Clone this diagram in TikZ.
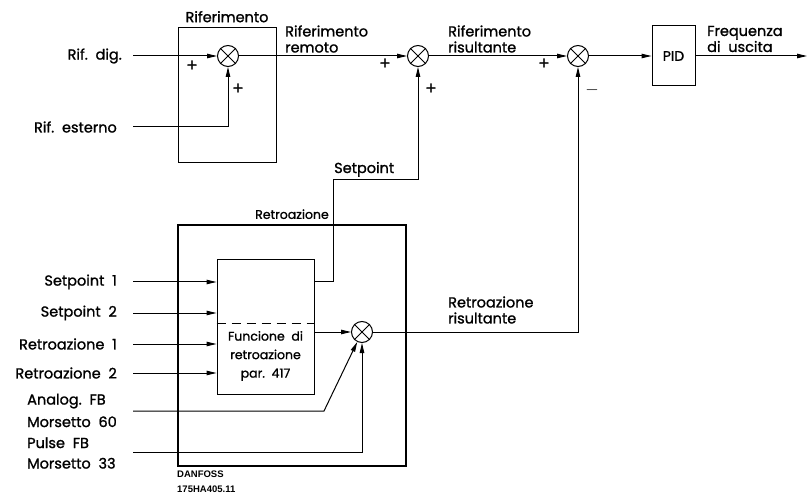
\documentclass[tikz,border=0pt]{standalone}
\usepackage{fontspec}
\setmainfont{Poppins}[RawFeature={embolden=1.2}]
\newfontfamily\stampfont{Liberation Sans}
\usetikzlibrary{arrows.meta,calc,positioning}
\tikzset{
  sumnode/.style={circle,draw=black,line width=1pt,minimum size=21pt,inner sep=0pt},
  blockbox/.style={draw=black,line width=1pt,inner sep=0pt,
    font=\fontsize{14}{16}\selectfont},
  frame/.style={draw=black,line width=1.6pt,inner sep=0pt},
  sig/.style={-{Triangle[length=10pt,width=4.5pt]},line width=1pt},
  wire/.style={line width=1pt},
  lbl/.style={font=\fontsize{14.5}{16}\selectfont,align=left,inner sep=1pt},
  sign/.style={font=\fontsize{17}{17}\selectfont,inner sep=0pt},
  stamp/.style={font=\stampfont\bfseries\fontsize{9.5}{15}\selectfont,align=left,inner sep=0pt}
}
\begin{document}
\begin{tikzpicture}[x=1pt,y=-1pt,node distance=10pt]
  \useasboundingbox (0,0) rectangle (807,500);
  % reference chain
  \node[blockbox,minimum width=98pt,minimum height=135pt] (rifbox) at (227,95.5) {};
  \node[lbl,above=4pt of rifbox] (riflbl) {Riferimento};
  \node[sumnode] (s1) at (228,56) {};
  \node[sumnode] (s2) at (418,56) {};
  \node[sumnode] (s3) at (578,56) {};
  \node[blockbox,minimum width=43pt,minimum height=60pt] (pid) at (673.5,56) {PID};
  \coordinate (dig) at (133,56);
  \coordinate (est) at (133,127);
  \coordinate (fout) at (807,56);
  \node[lbl,left=of dig] (diglbl) {Rif.\ \ dig.};
  \node[lbl,left=15pt of est] (estlbl) {Rif.\ \ esterno};
  \draw[sig] (dig) -- (s1);
  \draw[sig] (est) -| (s1);
  \draw[sig] (s1) -- (s2);
  \draw[sig] (s2) -- (s3);
  \draw[sig] (s3) -- (pid);
  \draw[sig] (pid) -- (fout);
  \node[lbl,anchor=west] (remlbl) at (284,39) {Riferimento\\remoto};
  \node[lbl,anchor=west] (rislbl) at (447,39) {Riferimento\\risultante};
  \node[lbl,anchor=west] (freqlbl) at (706,39) {Frequenza\\di\ \ uscita};
  \node[sign] (p1a) at (192,66) {+};
  \node[sign] (p1b) at (238,89) {+};
  \node[sign] (p2a) at (385,64) {+};
  \node[sign] (p2b) at (431,89) {+};
  \node[sign] (p3a) at (544,64) {+};
  \node[sign] (m3b) at (592,90) {$-$};

  % feedback block
  \node[frame,minimum width=228pt,minimum height=241pt] (fbbox) at (292,345.5) {};
  \node[lbl,above=4pt of fbbox,font=\fontsize{12.5}{14}\selectfont] (fblbl) {Retroazione};
  \node[blockbox,minimum width=97pt,minimum height=134pt] (fbfun) at (265.5,327) {};
  \draw[wire,dash pattern=on 9pt off 6pt] ($(fbfun.west)+(0,-4)$) -- ($(fbfun.east)+(0,-4)$);
  \node[align=center,font=\fontsize{12.5}{18.5}\selectfont,inner sep=0pt] (funtxt) at (265.5,356)
    {Funcione\ \ di\\retroazione\\par.\ \ 417};
  \node[sumnode] (s4) at (362,332) {};
  \foreach \name/\yy/\txt in {sp1/282/Setpoint\ \ 1,sp2/313/Setpoint\ \ 2,
      fb1/344/Retroazione\ \ 1,fb2/373/Retroazione\ \ 2}{
    \coordinate (\name) at (133,\yy);
    \node[lbl,left=15pt of \name] (\name lbl) {\txt};
    \draw[sig] (\name) -- (\name -| fbfun.west);
  }
  \coordinate (spout) at ($(fbfun.north east)+(0,22)$);
  \coordinate (spbend) at (333,180);
  \draw[sig] (spout) -| (spbend) -| (s2);
  \node[lbl,above right=2pt and 0pt of spbend] (splbl) {Setpoint};
  \draw[sig] (fbfun.east |- s4) -- (s4);
  \coordinate (rrbend) at (578,332);
  \draw[sig] (s4) -- (rrbend) -- (s3);
  \node[lbl,anchor=west] (rrlbl) at (447,310) {Retroazione\\risultante};
  \coordinate (an) at (133,411);
  \coordinate (anbend) at (324,411);
  \coordinate (pu) at (133,452);
  \draw[sig] (an) -- (anbend) -- (s4);
  \draw[sig] (pu) -| (s4);
  \node[lbl,anchor=west,font=\fontsize{14.5}{22.5}\selectfont] (anlbl) at (26,410.5) {Analog.\ \ FB\\Morsetto\ \ 60};
  \node[lbl,anchor=west,font=\fontsize{14.5}{20.5}\selectfont] (pulbl) at (26,453) {Pulse\ \ FB\\Morsetto\ \ 33};
  \foreach \j in {s1,s2,s3,s4}
    \draw[wire] (\j.north west) -- (\j.south east) (\j.north east) -- (\j.south west);
  \node[stamp,anchor=north west] (stamp) at (177,471) {DANFOSS\\175HA405.11};
\end{tikzpicture}
\end{document}
